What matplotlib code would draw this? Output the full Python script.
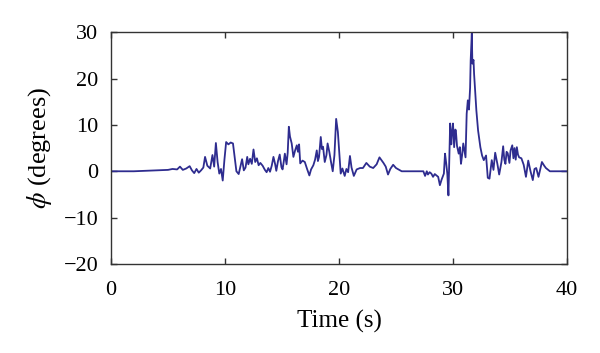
import numpy as np
import matplotlib
matplotlib.use("Agg")
import matplotlib.pyplot as plt

# roll angle trace (time in s, phi in degrees)
time_s = [
    0.0, 2.0, 3.0, 4.0, 5.0, 5.4, 5.8, 6.05, 6.3, 6.6, 6.9, 7.1, 7.3, 7.5, 7.7, 7.9,
    8.1, 8.25, 8.45, 8.7, 8.9, 9.05, 9.2, 9.35, 9.5, 9.65, 9.8, 9.95, 10.1, 10.3,
    10.5, 10.7, 10.85, 11.0, 11.2, 11.35, 11.5, 11.65, 11.8, 11.95, 12.05, 12.2,
    12.35, 12.5, 12.65, 12.8, 12.95, 13.1, 13.3, 13.5, 13.65, 13.8, 13.95, 14.1,
    14.25, 14.4, 14.5, 14.65, 14.8, 14.95, 15.05, 15.15, 15.25, 15.4, 15.5, 15.6,
    15.7, 15.85, 16.0, 16.15, 16.3, 16.4, 16.5, 16.6, 16.8, 17.0, 17.2, 17.4,
    17.55, 17.75, 17.9, 18.05, 18.15, 18.25, 18.4, 18.5, 18.6, 18.75, 18.9, 19.0,
    19.15, 19.3, 19.45, 19.6, 19.75, 19.9, 20.05, 20.15, 20.3, 20.5, 20.65, 20.8,
    20.96, 21.1, 21.3, 21.55, 21.85, 22.1, 22.4, 22.7, 23.0, 23.3, 23.55, 23.9,
    24.1, 24.3, 24.5, 24.75, 25.0, 25.5, 26.5, 27.4, 27.55, 27.7, 27.8, 27.95,
    28.1, 28.25, 28.4, 28.55, 28.7, 28.85, 29.0, 29.2, 29.3, 29.4, 29.5, 29.6,
    29.75, 29.85, 29.9, 30.0, 30.1, 30.2, 30.25, 30.35, 30.5, 30.6, 30.7, 30.8,
    30.9, 31.0, 31.1, 31.2, 31.3, 31.4, 31.5, 31.55, 31.65, 31.7, 31.8, 31.85,
    31.95, 32.05, 32.2, 32.4, 32.55, 32.7, 32.9, 33.05, 33.2, 33.4, 33.55, 33.7,
    33.9, 34.05, 34.25, 34.4, 34.5, 34.6, 34.7, 34.8, 34.95, 35.05, 35.2, 35.3,
    35.4, 35.5, 35.6, 35.7, 35.8, 36.0, 36.2, 36.4, 36.6, 36.8, 37.0, 37.15,
    37.3, 37.5, 37.65, 37.8, 38.0, 38.15, 38.5, 39.0, 40.0,
]
phi_deg = [
    0.0, 0.0, 0.1, 0.2, 0.3, 0.5, 0.4, 1.0, 0.3, 0.6, 1.1, 0.2, -0.4, 0.5, -0.3, 0.2,
    0.8, 3.1, 1.2, 0.6, 3.5, 1.0, 6.1, 2.0, -0.5, 0.5, -2.0, 2.5, 6.3, 5.8,
    6.2, 6.0, 3.0, 0.0, -0.6, 1.0, 2.6, 0.2, 0.8, 3.1, 1.5, 2.7, 1.6, 4.7, 2.0,
    2.8, 1.3, 1.8, 1.2, 0.3, -0.2, 0.7, -0.1, 1.2, 3.1, 1.5, 0.1, 2.2, 3.6, 0.9,
    0.4, 2.0, 3.8, 1.5, 4.0, 9.6, 7.5, 6.0, 3.1, 4.5, 5.6, 4.2, 5.8, 1.7, 2.3,
    2.0, 0.5, -0.9, 0.4, 1.3, 2.5, 4.5, 2.2, 3.1, 7.4, 4.8, 5.3, 2.0, 3.5, 6.0,
    4.2, 2.0, 0.0, 3.5, 11.3, 8.5, 3.0, -0.5, 0.6, -1.0, 0.5, -0.2, 3.3, 0.8,
    -1.0, 0.4, 0.7, 0.7, 1.8, 1.0, 0.7, 1.5, 3.0, 1.8, 1.0, -0.7, 0.5, 1.4,
    0.7, 0.0, 0.0, 0.0, -1.0, 0.0, -0.7, -0.2, -0.5, -1.2, -0.6, -0.9, -1.2,
    -3.0, -1.8, -0.5, 3.8, 1.8, -0.5, -5.2, 10.3, 5.8, 8.0, 10.3, 5.2, 9.0,
    8.8, 5.5, 3.8, 5.2, 1.6, 3.5, 6.0, 4.5, 3.0, 12.4, 15.3, 13.3, 18.0,
    23.9, 29.7, 23.2, 24.0, 21.0, 17.0, 13.1, 8.8, 5.2, 3.4, 2.4, 3.4, -1.4,
    -1.6, 2.4, 0.3, 4.0, 1.5, -0.7, 2.0, 5.4, 2.5, 1.6, 4.2, 3.9, 1.8, 4.5,
    5.6, 2.8, 5.0, 2.5, 5.2, 3.6, 3.0, 2.8, 1.4, -1.2, 2.3, 0.0, -1.9, 0.5,
    0.7, -1.2, 0.4, 2.0, 1.2, 0.7, 0.0, 0.0, 0.0,
]

plt.rcParams['font.family'] = ['Liberation Serif', 'DejaVu Serif']
plt.rcParams['mathtext.fontset'] = 'stix'

fig = plt.figure(figsize=(6.0, 3.53), dpi=100)
ax = fig.add_axes([0.185, 0.252, 0.76, 0.657])

ax.plot(time_s, phi_deg, color='#2e2c8f', lw=1.3)

ax.set_xlim(0, 40)
ax.set_ylim(-20, 30)
ax.set_xticks([0, 10, 20, 30, 40])
ax.set_yticks([-20, -10, 0, 10, 20, 30])
ax.tick_params(direction='in', top=True, right=True, length=4, width=1,
               color='#333333', labelsize=16)
ax.tick_params(axis='x', pad=12)
ax.tick_params(axis='y', pad=9)
for sp in ax.spines.values():
    sp.set_color('#333333')
    sp.set_linewidth(1.0)

ax.set_xlabel('Time (s)', fontsize=18, labelpad=7)
ax.set_ylabel(r'$\phi$ (degrees)', fontsize=19, labelpad=7)

fig.savefig('out.png', dpi=100)
